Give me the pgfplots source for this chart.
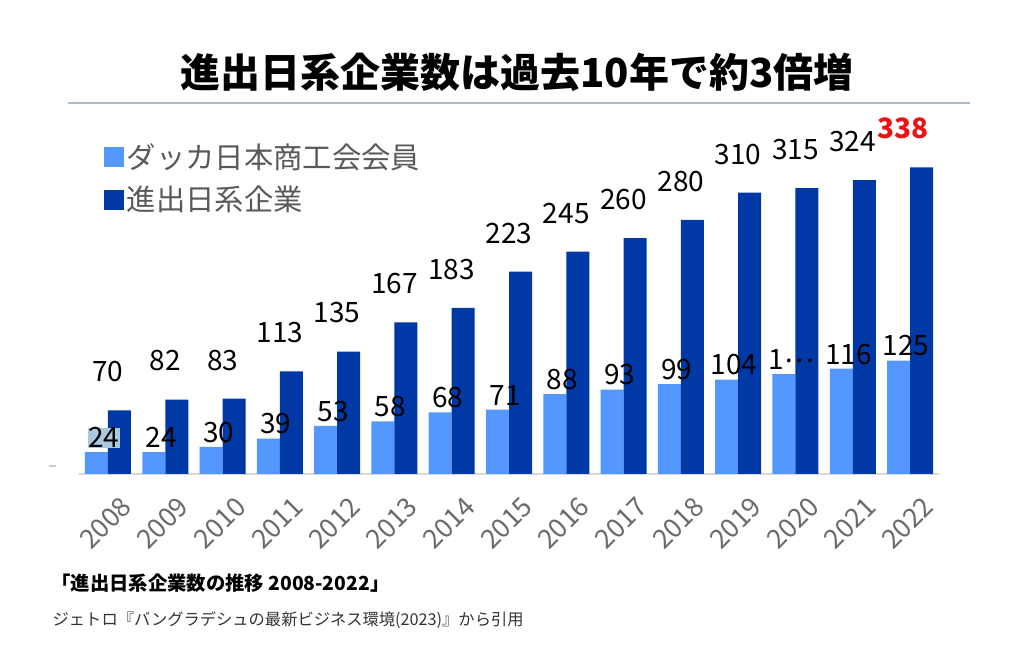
\documentclass[border=0pt]{standalone}
\usepackage{fontspec}
\usepackage{pgfplots}
\pgfplotsset{compat=1.18}
\setmainfont{Noto Sans CJK JP}
\definecolor{lightc}{RGB}{84,151,255}
\definecolor{darkc}{RGB}{0,57,166}
\definecolor{txtgray}{RGB}{89,89,89}
\definecolor{rulec}{RGB}{174,184,198}
\definecolor{hl}{RGB}{170,200,222}
\definecolor{redc}{RGB}{235,20,20}
\begin{document}
\begin{tikzpicture}
\path[use as bounding box] (0,0) rectangle (768pt,502.5pt);
\node[font=\fontsize{30}{34}\selectfont\bfseries] at (387.75pt,448.5pt) {進出日系企業数は過去10年で約3倍増};
\draw[rulec, line width=1.5pt] (51pt,425.25pt) -- (727.5pt,425.25pt);
\draw[gray!40, line width=0.8pt] (36.75pt,153pt) -- (42pt,153pt);
\begin{axis}[
  at={(59.51pt,147pt)}, anchor=south west,
  scale only axis, width=644.5pt, height=258.6pt,
  xmin=-0.5, xmax=14.5, ymin=0, ymax=380,
  clip=false,
  axis x line*=bottom,
  axis y line=none,
  x axis line style={-, draw=gray!30, line width=1pt},
  xtick={0,...,14},
  xticklabels={2008,2009,2010,2011,2012,2013,2014,2015,2016,2017,2018,2019,2020,2021,2022},
  major tick length=0pt,
  xticklabel style={rotate=45, anchor=north east, font=\fontsize{20}{24}\selectfont, text=txtgray!90, inner sep=0pt, xshift=-5pt, yshift=-17pt},
  legend style={at={(0.024,0.975)}, anchor=north west, draw=none, fill=none,
    font=\fontsize{22}{26}\selectfont, text=txtgray, row sep=8pt,
    cells={anchor=west}},
  point meta=explicit symbolic,
  nodes near coords,
  every node near coord/.append style={font=\fontsize{21}{24}\selectfont, inner sep=0pt, anchor=south, text=black},
]
\addplot[ybar, fill=lightc, draw=none, bar width=17.25pt, bar shift=-8.625pt,
  every node near coord/.append style={yshift=3pt, xshift=-3pt},
  legend image code/.code={\fill[lightc] (0pt,-7.5pt) rectangle (15pt,7.5pt);}]
coordinates {
(0,24) [{\setlength{\fboxsep}{0pt}\colorbox{hl}{24}}]
(1,24) [24]
(2,30) [30]
(3,39) [39]
(4,53) [53]
(5,58) [58]
(6,68) [68]
(7,71) [71]
(8,88) [88]
(9,93) [93]
(10,99) [99]
(11,104) [104]
(12,110) [{1\raisebox{0.25em}{…}}]
(13,116) [116]
(14,125) [125]
};
\addlegendentry{ダッカ日本商工会会員}
\addplot[ybar, fill=darkc, draw=none, bar width=17.25pt, bar shift=8.625pt,
  every node near coord/.append style={yshift=21pt},
  legend image code/.code={\fill[darkc] (0pt,-7.5pt) rectangle (15pt,7.5pt);}]
coordinates {
(0,70) [70]
(1,82) [82]
(2,83) [83]
(3,113) [113]
(4,135) [135]
(5,167) [167]
(6,183) [183]
(7,223) [223]
(8,245) [245]
(9,260) [260]
(10,280) [280]
(11,310) [310]
(12,315) [315]
(13,324) [324]
(14,338) [{\color{redc}\bfseries 338\kern10pt}]
};
\addlegendentry{進出日系企業}
\end{axis}
\node[anchor=west, font=\fontsize{14.5}{17}\selectfont\bfseries] at (35pt,65.25pt) {「進出日系企業数の推移 2008-2022」};
\node[anchor=west, font=\fontsize{12.2}{14}\selectfont, text=black!80] at (36pt,37.5pt) {ジェトロ『バングラデシュの最新ビジネス環境(2023)』から引用};
\end{tikzpicture}
\end{document}
